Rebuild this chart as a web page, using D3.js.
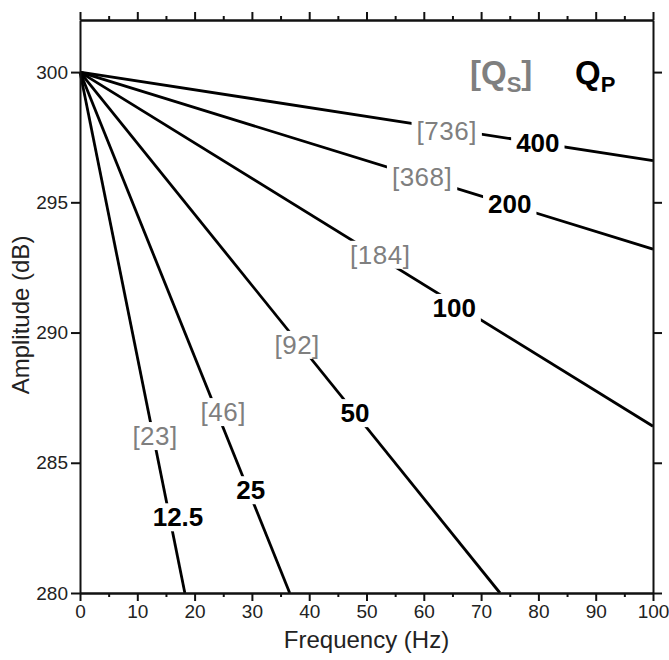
<!DOCTYPE html>
<html>
<head>
<meta charset="utf-8">
<script src="https://cdn.jsdelivr.net/npm/d3@7"></script>
<style>
  html, body { margin: 0; padding: 0; background: #fff; }
  svg { display: block; font-family: "Liberation Sans", Arial, Helvetica, sans-serif; }
</style>
</head>
<body>
<svg id="chart" width="669" height="660"></svg>
<script>
// ---- data ----
const qpValues = [12.5, 25, 50, 100, 200, 400];
const qsValues = [23, 46, 92, 184, 368, 736];
const startFreq = 0;
const startAmp = 300;
const endFreq = [18.3, 36.6, 73.3, 100, 100, 100];
const endAmp = [280, 280, 280, 286.4, 293.2, 296.6];
const qpLabelFreq = [17.1, 29.8, 48.0, 65.3, 75.0, 79.9];
const qpLabelAmp = [282.92, 283.96, 286.92, 290.96, 294.96, 297.31];
const qsLabelFreq = [13.1, 25.0, 37.9, 52.4, 59.7, 64.0];
const qsLabelAmp = [286.04, 286.96, 289.54, 293.0, 296.0, 297.77];
const xMajorTicks = [0, 10, 20, 30, 40, 50, 60, 70, 80, 90, 100];
const xMinorTicks = [5, 15, 25, 35, 45, 55, 65, 75, 85, 95];
const yTicks = [280, 285, 290, 295, 300];
const xDomain = [0, 100];
const yDomain = [280, 302];

// ---- layout ----
const W = 669, H = 660;
const m = { left: 80, right: 16, top: 20, bottom: 67 };
const svg = d3.select("#chart");
const x = d3.scaleLinear().domain(xDomain).range([m.left, W - m.right]);
const y = d3.scaleLinear().domain(yDomain).range([H - m.bottom, m.top]);

const gray = "#7f7f7f";

// ---- lines ----
const lineData = qpValues.map((q, i) => [[startFreq, startAmp], [endFreq[i], endAmp[i]]]);
const line = d3.line().x(d => x(d[0])).y(d => y(d[1]));
svg.append("g").selectAll("path").data(lineData).join("path")
  .attr("d", line).attr("fill", "none").attr("stroke", "#000")
  .attr("stroke-width", 2.8).attr("stroke-linecap", "butt");

// ---- labels ----
function addLabel(g, text, fx, fy, color, weight, size, spacing) {
  const grp = g.append("g");
  const rect = grp.append("rect").attr("fill", "#fff");
  const t = grp.append("text")
    .attr("x", x(fx)).attr("y", y(fy)).attr("dy", "0.36em")
    .attr("text-anchor", "middle")
    .attr("font-size", size).attr("font-weight", weight)
    .attr("letter-spacing", spacing)
    .attr("fill", color).text(text);
  const bb = t.node().getBBox();
  rect.attr("x", bb.x - 5).attr("y", bb.y + 1).attr("width", bb.width + 10).attr("height", bb.height - 2);
}
const lg = svg.append("g");
qsValues.forEach((q, i) => addLabel(lg, "[" + q + "]", qsLabelFreq[i], qsLabelAmp[i], gray, "normal", 26, 0.5));
qpValues.forEach((q, i) => addLabel(lg, String(q), qpLabelFreq[i], qpLabelAmp[i], "#000", "bold", 26, 0));

// ---- axes ----
const axisColor = "#111";
function styleAxis(g, showText) {
  g.selectAll(".domain").attr("stroke", axisColor).attr("stroke-width", 2);
  g.selectAll(".tick line").attr("stroke", axisColor).attr("stroke-width", 2);
  g.selectAll("text").attr("font-size", 19).attr("fill", "#222")
    .attr("font-family", "'Liberation Sans', Arial, Helvetica, sans-serif");
  if (!showText) g.selectAll("text").remove();
}
const yb = H - m.bottom, yt = m.top, xl = m.left, xr = W - m.right;

svg.append("g").attr("transform", `translate(0,${yb})`)
  .call(d3.axisBottom(x).tickValues(xMinorTicks).tickSize(4).tickSizeOuter(0).tickFormat(""))
  .call(g => styleAxis(g, false));
svg.append("g").attr("transform", `translate(0,${yb})`)
  .call(d3.axisBottom(x).tickValues(xMajorTicks).tickSize(8).tickSizeOuter(0).tickPadding(4).tickFormat(d3.format("d")))
  .call(g => styleAxis(g, true));
svg.append("g").attr("transform", `translate(0,${yt})`)
  .call(d3.axisTop(x).tickValues(xMinorTicks).tickSize(4).tickSizeOuter(0).tickFormat(""))
  .call(g => styleAxis(g, false));
svg.append("g").attr("transform", `translate(0,${yt})`)
  .call(d3.axisTop(x).tickValues(xMajorTicks).tickSize(8).tickSizeOuter(0).tickFormat(""))
  .call(g => styleAxis(g, false));
svg.append("g").attr("transform", `translate(${xl},0)`)
  .call(d3.axisLeft(y).tickValues(yTicks).tickSize(9).tickSizeOuter(0).tickPadding(3).tickFormat(d3.format("d")))
  .call(g => styleAxis(g, true));
svg.append("g").attr("transform", `translate(${xr},0)`)
  .call(d3.axisRight(y).tickValues(yTicks).tickSize(9).tickSizeOuter(0).tickFormat(""))
  .call(g => styleAxis(g, false));

// ---- axis titles ----
svg.append("text").attr("x", (xl + xr) / 2).attr("y", 648)
  .attr("text-anchor", "middle").attr("font-size", 24).attr("fill", "#222")
  .text("Frequency (Hz)");
svg.append("text").attr("transform", "rotate(-90)")
  .attr("x", -315).attr("y", 29)
  .attr("text-anchor", "middle").attr("font-size", 24).attr("fill", "#222")
  .text("Amplitude (dB)");

// ---- header legend ----
const hs = svg.append("text").attr("x", 470).attr("y", 84)
  .attr("font-size", 33).attr("font-weight", "bold").attr("fill", gray);
hs.append("tspan").text("[Q");
hs.append("tspan").attr("font-size", 22).attr("dy", 8).text("S");
hs.append("tspan").attr("dy", -8).text("]");
const hp = svg.append("text").attr("x", 575).attr("y", 84)
  .attr("font-size", 33).attr("font-weight", "bold").attr("fill", "#000");
hp.append("tspan").text("Q");
hp.append("tspan").attr("font-size", 22).attr("dy", 8).text("P");
</script>
</body>
</html>
